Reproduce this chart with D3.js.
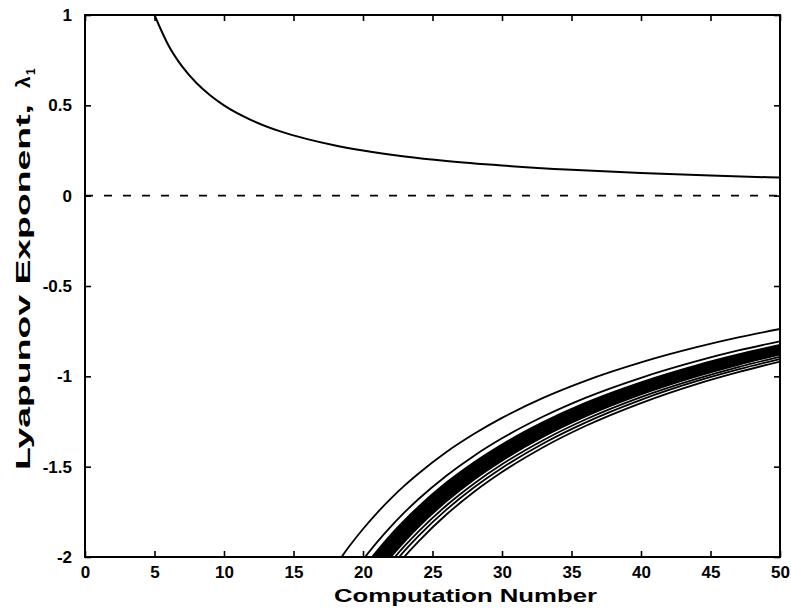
<!DOCTYPE html>
<html>
<head>
<meta charset="utf-8">
<script src="https://cdn.jsdelivr.net/npm/d3@7/dist/d3.min.js"></script>
<style>
  html, body { margin: 0; padding: 0; background: #fff; }
  svg { display: block; }
  text { font-family: "Liberation Sans", Arial, sans-serif; font-weight: bold; fill: #000; }
</style>
</head>
<body>
<svg id="chart" width="791" height="614"></svg>
<script>
// ---- data ----
const xTicks = [0, 5, 10, 15, 20, 25, 30, 35, 40, 45, 50];
const xTickLabels = ["0", "5", "10", "15", "20", "25", "30", "35", "40", "45", "50"];
const yTicks = [1, 0.5, 0, -0.5, -1, -1.5, -2];
const yTickLabels = ["1", "0.5", "0", "-0.5", "-1", "-1.5", "-2"];

// positive exponent curve
const upperX = [5, 6, 7, 8, 9, 10, 12, 14, 16, 18, 20, 23, 26, 30, 35, 40, 45, 50];
const upperY = [1.0, 0.833, 0.714, 0.625, 0.556, 0.5, 0.417, 0.357, 0.313, 0.278, 0.25, 0.217, 0.192, 0.167, 0.143, 0.125, 0.111, 0.1];

// zero reference line
const zeroX = [0, 50];
const zeroY = [0, 0];

// negative exponent curves (shared x samples)
const lowerX = [18, 19, 20, 21, 22, 23, 24, 26, 28, 30, 33, 36, 40, 44, 47, 50];
const curveA = [-2.050, -1.942, -1.845, -1.757, -1.677, -1.604, -1.538, -1.419, -1.318, -1.230, -1.118, -1.025, -0.923, -0.839, -0.785, -0.738];
const curveB = [-2.239, -2.121, -2.015, -1.919, -1.832, -1.752, -1.679, -1.550, -1.439, -1.343, -1.221, -1.119, -1.008, -0.916, -0.857, -0.806];
const bandTop = [-2.294, -2.174, -2.065, -1.967, -1.877, -1.796, -1.721, -1.588, -1.475, -1.377, -1.252, -1.147, -1.033, -0.939, -0.879, -0.826];
const bandBottom = [-2.444, -2.316, -2.200, -2.095, -2.000, -1.913, -1.833, -1.692, -1.571, -1.467, -1.333, -1.222, -1.100, -1.000, -0.936, -0.880];
const curveC = [-2.478, -2.347, -2.230, -2.124, -2.027, -1.939, -1.858, -1.715, -1.593, -1.487, -1.352, -1.239, -1.115, -1.014, -0.949, -0.892];
const curveD = [-2.511, -2.379, -2.260, -2.152, -2.055, -1.965, -1.883, -1.738, -1.614, -1.507, -1.370, -1.256, -1.130, -1.027, -0.962, -0.904];
const curveE = [-2.550, -2.416, -2.295, -2.186, -2.086, -1.996, -1.913, -1.765, -1.639, -1.530, -1.391, -1.275, -1.148, -1.043, -0.977, -0.918];

const xLabel = "Computation Number";
const yLabel = "Lyapunov Exponent,";

// ---- drawing ----
const svg = d3.select("#chart");
const L = 85, R = 780, T = 15, B = 557;
const x = d3.scaleLinear().domain([0, 50]).range([L, R]);
const y = d3.scaleLinear().domain([-2, 1]).range([B, T]);

svg.append("defs").append("clipPath").attr("id", "plotclip")
  .append("rect").attr("x", L).attr("y", T).attr("width", R - L).attr("height", B - T);

const plot = svg.append("g").attr("clip-path", "url(#plotclip)");

const line = d3.line().x(d => x(d[0])).y(d => y(d[1])).curve(d3.curveMonotoneX);
const zip = (xs, ys) => xs.map((v, i) => [v, ys[i]]);

// band area
const area = d3.area()
  .x(d => x(d[0])).y0(d => y(d[1])).y1(d => y(d[2]))
  .curve(d3.curveMonotoneX);
plot.append("path")
  .datum(lowerX.map((v, i) => [v, bandTop[i], bandBottom[i]]))
  .attr("d", area).attr("fill", "#000");

[curveA, curveB, bandTop, bandBottom, curveC, curveD, curveE].forEach(c => {
  plot.append("path").datum(zip(lowerX, c))
    .attr("d", line).attr("fill", "none").attr("stroke", "#000").attr("stroke-width", 1.8);
});

plot.append("path").datum(zip(upperX, upperY))
  .attr("d", line).attr("fill", "none").attr("stroke", "#000").attr("stroke-width", 2);

plot.append("path").datum(zip(zeroX, zeroY))
  .attr("d", d3.line().x(d => x(d[0])).y(d => y(d[1])))
  .attr("fill", "none").attr("stroke", "#000").attr("stroke-width", 1.6)
  .attr("stroke-dasharray", "8,11");

// axes
const tick = 6;
const styleAxis = g => {
  g.select(".domain").remove();
  g.selectAll(".tick line").attr("stroke", "#000").attr("stroke-width", 1.6);
  g.selectAll("text").attr("font-size", 17).attr("font-family", "Liberation Sans, Arial, sans-serif").attr("font-weight", "bold");
};

svg.append("g").attr("transform", `translate(0,${B})`)
  .call(d3.axisBottom(x).tickValues(xTicks).tickSizeInner(-tick).tickSizeOuter(0).tickPadding(9)
    .tickFormat((d, i) => xTickLabels[i]))
  .call(styleAxis);
svg.append("g").attr("transform", `translate(0,${T})`)
  .call(d3.axisTop(x).tickValues(xTicks).tickSizeInner(-tick).tickSizeOuter(0).tickFormat(""))
  .call(styleAxis);
svg.append("g").attr("transform", `translate(${L},0)`)
  .call(d3.axisLeft(y).tickValues(yTicks).tickSizeInner(-tick).tickSizeOuter(0).tickPadding(13)
    .tickFormat((d, i) => yTickLabels[i]))
  .call(styleAxis);
svg.append("g").attr("transform", `translate(${R},0)`)
  .call(d3.axisRight(y).tickValues(yTicks).tickSizeInner(-tick).tickSizeOuter(0).tickFormat(""))
  .call(styleAxis);

// frame
svg.append("rect").attr("x", L).attr("y", T).attr("width", R - L).attr("height", B - T)
  .attr("fill", "none").attr("stroke", "#000").attr("stroke-width", 2);

// axis titles
svg.append("text").attr("x", 334).attr("y", 602)
  .attr("font-size", 18).attr("textLength", 263).attr("lengthAdjust", "spacingAndGlyphs")
  .text(xLabel);

const yl = svg.append("g").attr("transform", "translate(30,470) rotate(-90)");
yl.append("text").attr("x", 0).attr("y", 0).attr("font-size", 21)
  .attr("textLength", 366).attr("lengthAdjust", "spacingAndGlyphs").text(yLabel);
yl.append("text").attr("x", 382).attr("y", 0).attr("font-size", 21)
  .attr("font-family", "DejaVu Serif, serif").attr("font-weight", "normal").text("λ");
yl.append("text").attr("x", 395).attr("y", 5).attr("font-size", 12)
  .attr("font-family", "DejaVu Serif, serif").attr("font-weight", "normal").text("1");
</script>
</body>
</html>
